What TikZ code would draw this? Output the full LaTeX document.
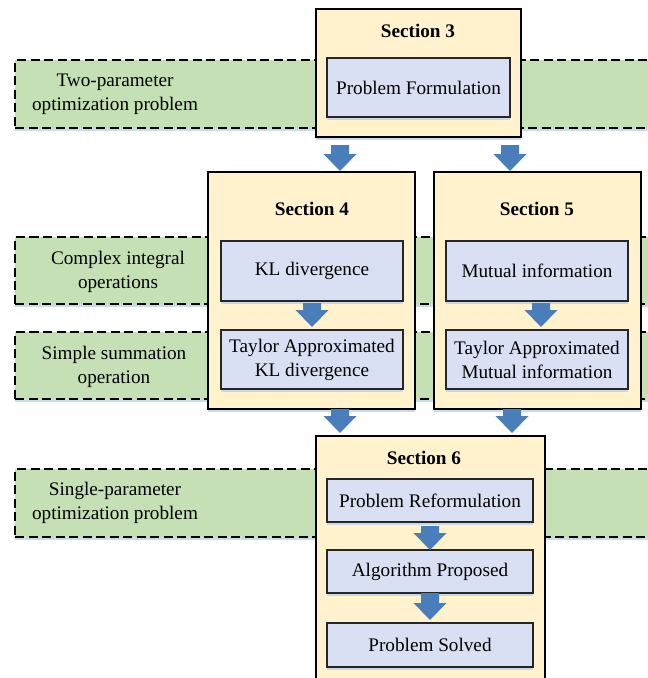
\documentclass[tikz,border=0pt]{standalone}
\usepackage{fontspec}
\setmainfont{Liberation Serif}
\usetikzlibrary{calc,shadows}
\definecolor{bandgreen}{HTML}{C5E0B4}
\definecolor{secfill}{HTML}{FFF2CC}
\definecolor{boxfill}{HTML}{DAE0F3}
\definecolor{arrowblue}{HTML}{4A7EBB}
\definecolor{shadowblue}{HTML}{BCD2EC}
\definecolor{edgegray}{HTML}{262626}
\newcommand\barr[2]{\fill[arrowblue] let \p1=#1, \p2=#2 in
  (\x1-9pt,\y1) -- (\x1+9pt,\y1) -- (\x1+9pt,\y2+17pt) -- (\x1+16.5pt,\y2+17pt)
  -- (\x1,\y2) -- (\x1-16.5pt,\y2+17pt) -- (\x1-9pt,\y2+17pt) -- cycle;}
\begin{document}
\begin{tikzpicture}[x=1pt,y=-1pt,
  font=\fontsize{19.2}{24}\selectfont,
  softshadow/.style={drop shadow={shadow xshift=0pt,shadow yshift=-2.5pt,fill=shadowblue,opacity=.8}},
  band/.style={draw=black, line width=1.3pt, dash pattern=on 9pt off 4.5pt, fill=bandgreen,
    inner sep=0pt, outer sep=0pt, minimum width=660pt, minimum height=68pt, anchor=north west, softshadow},
  secbox/.style={draw=black, line width=1.5pt, fill=secfill, inner sep=0pt, outer sep=0pt, softshadow},
  inbox/.style={draw=edgegray, line width=1.2pt, fill=boxfill, inner sep=0pt, outer sep=0pt,
    align=center, softshadow},
  seclabel/.style={inner sep=0pt, font=\fontsize{19.2}{24}\selectfont\bfseries},
  bandtext/.style={inner sep=0pt, align=center}]

\fill[white] (0,0) rectangle (648,678);
\useasboundingbox (0,0) rectangle (648,678);
\clip (0,0) rectangle (648,678);

% bands
\node[band] (b1) at (15,60) {};
\node[band, minimum height=67pt] (b2) at (15,237) {};
\node[band, minimum height=67pt] (b3) at (15,332) {};
\node[band] (b4) at (15,469) {};

\node[bandtext] (t1) at (115,94.5) {Two-parameter\\optimization problem};
\node[bandtext] (t2) at (118,271.5) {Complex integral\\operations};
\node[bandtext] (t3) at (114,367) {Simple summation\\operation};
\node[bandtext] (t4) at (115,502.5) {Single-parameter\\optimization problem};

% section boxes
\node[secbox, minimum width=205pt, minimum height=128pt] (sec3) at (418.5,73) {};
\node[secbox, minimum width=207pt, minimum height=237pt] (sec4) at (311.5,290.5) {};
\node[secbox, minimum width=207pt, minimum height=237pt] (sec5) at (537.5,290.5) {};
\node[secbox, minimum width=229pt, minimum height=264pt] (sec6) at (430.5,568) {};

\node[seclabel] (s3) at (418,30.5) {Section 3};
\node[seclabel] (s4) at (312,209) {Section 4};
\node[seclabel] (s5) at (537,209) {Section 5};
\node[seclabel] (s6) at (424,458) {Section 6};

% inner boxes
\node[inbox, minimum width=183pt, minimum height=59pt] (pf) at (418.5,87.5) {Problem Formulation};
\node[inbox, minimum width=182pt, minimum height=60pt] (kl) at (312,271) {KL divergence};
\node[inbox, minimum width=182pt, minimum height=60pt] (mi) at (537,271) {Mutual information};
\node[inbox, minimum width=182pt, minimum height=59pt] (tkl) at (312,359.5) {Taylor Approximated\\KL divergence};
\node[inbox, minimum width=182pt, minimum height=59pt] (tmi) at (537,359.5) {Taylor Approximated\\Mutual information};
\node[inbox, minimum width=206pt, minimum height=43pt] (pr) at (430,500.5) {Problem Reformulation};
\node[inbox, minimum width=206pt, minimum height=43pt] (ap) at (430,571.5) {Algorithm Proposed};
\node[inbox, minimum width=206pt, minimum height=44pt] (ps) at (430,645) {Problem Solved};

% block arrows
\barr{($(sec3.south west)+(24,8)$)}{($(sec3.south west |- sec4.north)+(24,-1)$)}
\barr{($(sec3.south east)+(-11,8)$)}{($(sec3.south east |- sec5.north)+(-11,-1)$)}
\barr{($(kl.south)+(0,2)$)}{($(tkl.north)+(0,-3)$)}
\barr{($(mi.south)+(4,2)$)}{($(tmi.north)+(4,-3)$)}
\barr{($(sec4.south east)+(-75,0)$)}{($(sec6.north west)+(24,-3)$)}
\barr{($(sec5.south west)+(78,0)$)}{($(sec6.north east)+(-33,-3)$)}
\barr{($(pr.south)+(0,4)$)}{(ap.north)}
\barr{(ap.south)}{($(ps.north)+(0,-3)$)}
\end{tikzpicture}
\end{document}
